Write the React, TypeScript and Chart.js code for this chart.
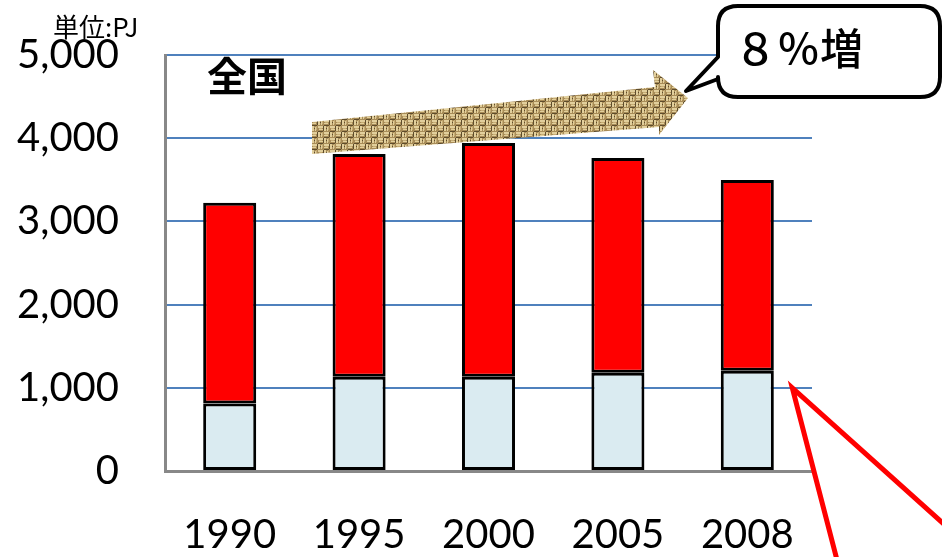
import React, { useEffect, useRef } from 'react';
import { Chart, registerables } from 'chart.js';

Chart.register(...registerables);

const categories = ['1990', '1995', '2000', '2005', '2008'];
const lowerValues = [810, 1134, 1134, 1182, 1206];
const upperValues = [2413, 2677, 2809, 2581, 2293];
const yTicks = [0, 1000, 2000, 3000, 4000, 5000];
const unitLabel = '単位:PJ';
const regionLabel = '全国';
const calloutLabel = '８％増';

function makeBurlap(): CanvasPattern | string {
  const c = document.createElement('canvas');
  c.width = 12;
  c.height = 12;
  const g = c.getContext('2d');
  if (!g) return '#BFA46C';
  g.fillStyle = '#A88C58';
  g.fillRect(0, 0, 12, 12);
  const light = '#E2CF9C';
  const mid = '#C6AC74';
  const dark = '#5E4C2C';
  g.fillStyle = light;
  g.fillRect(0, 0, 5, 2);
  g.fillRect(0, 3, 4, 1);
  g.fillRect(6, 6, 5, 2);
  g.fillRect(7, 9, 4, 1);
  g.fillRect(6, 0, 2, 5);
  g.fillRect(9, 1, 1, 4);
  g.fillRect(0, 6, 2, 5);
  g.fillRect(3, 7, 1, 4);
  g.fillStyle = mid;
  g.fillRect(1, 2, 3, 1);
  g.fillRect(7, 8, 3, 1);
  g.fillRect(10, 0, 1, 4);
  g.fillRect(4, 6, 1, 4);
  g.fillStyle = dark;
  g.fillRect(0, 5, 5, 1);
  g.fillRect(6, 11, 5, 1);
  g.fillRect(5, 0, 1, 5);
  g.fillRect(11, 6, 1, 5);
  g.fillRect(8, 2, 1, 1);
  g.fillRect(2, 8, 1, 1);
  return g.createPattern(c, 'repeat') || '#BFA46C';
}

const decorations = {
  id: 'decorations',
  afterDraw(chart: any) {
    const { ctx, scales } = chart;
    const x = scales.x;
    const y = scales.y;
    ctx.save();

    // unit label
    ctx.fillStyle = '#000';
    ctx.font = '26px "Noto Sans CJK JP", sans-serif';
    ctx.textAlign = 'left';
    ctx.textBaseline = 'middle';
    ctx.fillText(unitLabel, 53, 27);

    // region label
    ctx.font = 'bold 40px "Noto Sans CJK JP", sans-serif';
    ctx.fillText(regionLabel, 207, 76);

    // textured arrow
    ctx.beginPath();
    ctx.moveTo(312, 122);
    ctx.lineTo(655, 87);
    ctx.lineTo(653, 70);
    ctx.lineTo(688, 98);
    ctx.lineTo(659, 135);
    ctx.lineTo(659, 127);
    ctx.lineTo(312, 154);
    ctx.closePath();
    ctx.fillStyle = makeBurlap();
    ctx.fill();

    // callout
    const l = 718, t = 6, r = 940, b = 97, rad = 20;
    ctx.beginPath();
    ctx.moveTo(l + rad, t);
    ctx.lineTo(r - rad, t);
    ctx.quadraticCurveTo(r, t, r, t + rad);
    ctx.lineTo(r, b - rad);
    ctx.quadraticCurveTo(r, b, r - rad, b);
    ctx.lineTo(l + rad, b);
    ctx.quadraticCurveTo(l, b, l, b - rad);
    ctx.lineTo(l, 79);
    ctx.lineTo(686, 91);
    ctx.lineTo(l, 57);
    ctx.lineTo(l, t + rad);
    ctx.quadraticCurveTo(l, t, l + rad, t);
    ctx.closePath();
    ctx.fillStyle = '#fff';
    ctx.fill();
    ctx.lineWidth = 4;
    ctx.strokeStyle = '#000';
    ctx.lineJoin = 'round';
    ctx.stroke();

    ctx.fillStyle = '#000';
    ctx.font = '500 43px "Noto Sans CJK JP", sans-serif';
    ctx.textAlign = 'left';
    ctx.textBaseline = 'middle';
    ctx.fillText(calloutLabel, 734, 49);

    // red pointer lines
    const px = x.getPixelForValue(4) + 45;
    const py = y.getPixelForValue(1000);
    ctx.strokeStyle = '#FF0000';
    ctx.lineWidth = 5;
    ctx.lineJoin = 'miter';
    ctx.beginPath();
    ctx.moveTo(837, 560);
    ctx.lineTo(px, py);
    ctx.lineTo(945, 525);
    ctx.stroke();

    ctx.restore();
  },
};

export default function App() {
  const ref = useRef<HTMLCanvasElement>(null);

  useEffect(() => {
    document.body.style.margin = '0';
    if (!ref.current) return;
    const chart = new Chart(ref.current, {
      type: 'bar',
      data: {
        labels: categories,
        datasets: [
          {
            label: 'lower',
            data: lowerValues,
            backgroundColor: '#DAEBF1',
            borderColor: '#000',
            borderWidth: 3,
            borderSkipped: false,
            barPercentage: 0.41,
            categoryPercentage: 1,
          },
          {
            label: 'upper',
            data: upperValues,
            backgroundColor: '#FF0000',
            borderColor: '#000',
            borderWidth: 3,
            borderSkipped: false,
            barPercentage: 0.41,
            categoryPercentage: 1,
          },
        ],
      },
      options: {
        responsive: false,
        animation: false,
        layout: { padding: { left: 0, right: 130, top: 55, bottom: 0 } },
        plugins: {
          legend: { display: false },
          tooltip: { enabled: false },
        },
        scales: {
          x: {
            stacked: true,
            grid: { display: false, drawTicks: false },
            border: { color: '#888', width: 3 },
            ticks: {
              color: '#000',
              font: { family: 'Lato', size: 40 },
              padding: 40,
              maxRotation: 0,
            },
            afterFit: (s: any) => {
              s.height = 86;
              s.paddingLeft = 0;
              s.paddingRight = 0;
            },
          },
          y: {
            stacked: true,
            min: 0,
            max: 5000,
            afterBuildTicks: (s: any) => {
              s.ticks = yTicks.map((v) => ({ value: v }));
            },
            grid: { color: '#4F81BD', lineWidth: 2, drawTicks: false },
            border: { color: '#888', width: 3 },
            ticks: {
              color: '#000',
              font: { family: 'Lato', size: 40 },
              padding: 46,
              callback: (v: any) => Number(v).toLocaleString('en-US'),
            },
            afterFit: (s: any) => {
              s.width = 165;
              s.paddingTop = 0;
              s.paddingBottom = 0;
            },
          },
        },
      },
      plugins: [decorations],
    });
    return () => chart.destroy();
  }, []);

  return (
    <div style={{ position: 'fixed', left: 0, top: 0, width: 942, height: 557, background: '#fff' }}>
      <canvas ref={ref} width={942} height={557} />
    </div>
  );
}
